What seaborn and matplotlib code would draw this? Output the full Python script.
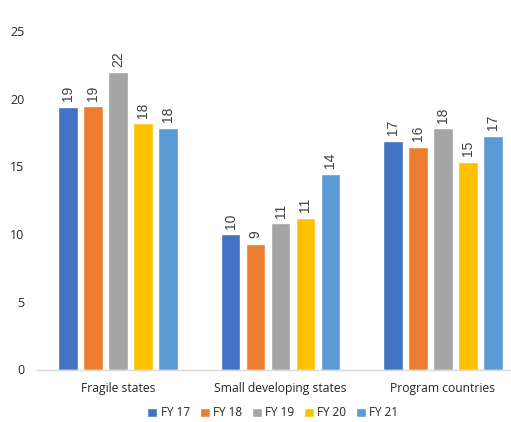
import numpy as np
import pandas as pd
import matplotlib
matplotlib.use("Agg")
import matplotlib.pyplot as plt
import seaborn as sns

categories = ["Fragile states", "Small developing states", "Program countries"]
years = ["FY 17", "FY 18", "FY 19", "FY 20", "FY 21"]
fy17 = [19.4, 10.0, 16.9]
fy18 = [19.45, 9.3, 16.45]
fy19 = [21.95, 10.8, 17.8]
fy20 = [18.2, 11.2, 15.35]
fy21 = [17.85, 14.45, 17.25]
colors = ["#4472C4", "#ED7D31", "#A5A5A5", "#FFC000", "#5B9BD5"]

series = [fy17, fy18, fy19, fy20, fy21]
df = pd.DataFrame({
    "category": [c for s in series for c in categories],
    "year": [y for y, s in zip(years, series) for _ in s],
    "value": [v for s in series for v in s],
})

sns.set_theme(style="white")
plt.rcParams["font.family"] = ["Open Sans", "DejaVu Sans"]

fig = plt.figure(figsize=(5.11, 4.22), dpi=100)
ax = fig.add_axes([37/511, 52.5/422, 487/511, 338.5/422])

sns.barplot(data=df, x="category", y="value", hue="year", order=categories,
            hue_order=years, palette=colors, width=0.77, saturation=1,
            errorbar=None, ax=ax, legend=True)

# shrink bars to leave white gaps between them
for p in ax.patches:
    w = p.get_width()
    if w > 0:
        nw = w * 0.78
        p.set_x(p.get_x() + (w - nw) / 2)
        p.set_width(nw)

for cont in ax.containers:
    ax.bar_label(cont, fmt="%.0f", rotation=90, padding=4, fontsize=10,
                 color="#404040", family=["Liberation Sans", "DejaVu Sans"])

ax.set_xlim(-0.5, 2.5)
ax.set_ylim(0, 25)
ax.set_yticks([0, 5, 10, 15, 20, 25])
ax.set_xlabel("")
ax.set_ylabel("")
for s in ["top", "right", "left"]:
    ax.spines[s].set_visible(False)
ax.spines["bottom"].set_color("#D9D9D9")
ax.spines["bottom"].set_linewidth(1)
ax.tick_params(axis="y", length=0, pad=9, labelsize=9, labelcolor="#262626")
ax.tick_params(axis="x", length=0, pad=9, labelsize=8.7, labelcolor="#262626")

handles, labels = ax.get_legend_handles_labels()
ax.legend_.remove()
fig.legend(handles, labels, loc="center", bbox_to_anchor=(273/511, 1 - 413/422),
           ncol=5, frameon=False, fontsize=8.5, handlelength=0.85, handleheight=0.85,
           handletextpad=0.3, columnspacing=0.8, labelcolor="#262626")

fig.savefig("out.png", dpi=100)
